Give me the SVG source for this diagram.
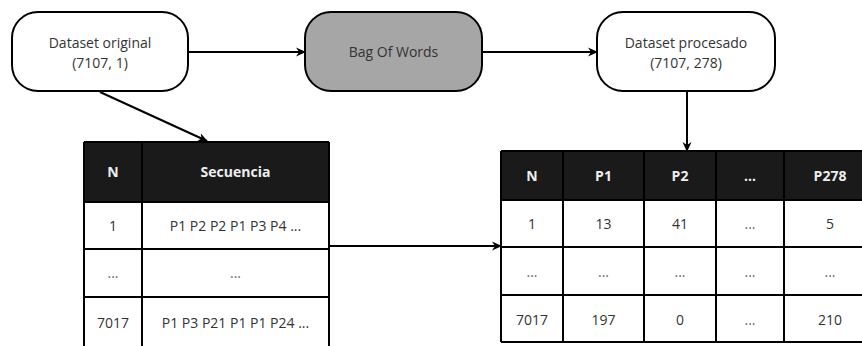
<svg xmlns="http://www.w3.org/2000/svg" width="862" height="346" viewBox="0 0 862 346">
  <defs>
    <marker id="arrow" viewBox="0 0 10 10" refX="9" refY="5" markerWidth="10" markerHeight="10" markerUnits="userSpaceOnUse" orient="auto">
      <path d="M0,0.5 L10,5 L0,9.5 L3,5 Z" fill="#000"/>
    </marker>
    <style>
      .node { stroke: #000; stroke-width: 2; }
      .txt { font-family: "Open Sans", "Noto Sans", sans-serif; font-size: 14px; fill: #333; text-anchor: middle; }
      .dots { fill: #666; }
      .hdr { font-family: "Open Sans", "Noto Sans", sans-serif; font-size: 14px; font-weight: bold; fill: #eee; text-anchor: middle; }
      .grid { stroke: #000; stroke-width: 2; fill: none; }
      .link { stroke: #000; stroke-width: 2; fill: none; marker-end: url(#arrow); }
    </style>
  </defs>
  <rect width="862" height="346" fill="#fff"/>

  <!-- process nodes -->
  <g id="dataset-original">
    <rect class="node" x="12" y="12" width="176" height="79" rx="26" fill="#fff"/>
    <text class="txt" x="100" y="48">Dataset original</text>
    <text class="txt" x="100" y="68">(7107, 1)</text>
  </g>
  <g id="bag-of-words">
    <rect class="node" x="305" y="12" width="177" height="79" rx="26" fill="#a6a6a6"/>
    <text class="txt" x="393.5" y="57">Bag Of Words</text>
  </g>
  <g id="dataset-procesado">
    <rect class="node" x="597" y="12" width="178" height="79" rx="26" fill="#fff"/>
    <text class="txt" x="686" y="48">Dataset procesado</text>
    <text class="txt" x="686" y="68">(7107, 278)</text>
  </g>

  <!-- original table -->
  <g id="tabla-original">
    <rect x="84" y="142" width="245" height="60" fill="#1a1a1a"/>
    <path class="grid" d="M84,142 H329 M84,142 V350 M142,142 V350 M329,142 V350 M84,202 H329 M84,249 H329 M84,297 H329"/>
    <text class="hdr" x="113" y="177">N</text>
    <text class="hdr" x="235.5" y="177">Secuencia</text>
    <text class="txt" x="113" y="231">1</text>
    <text class="txt" x="235.5" y="231">P1 P2 P2 P1 P3 P4 ...</text>
    <text class="txt dots" x="113" y="278">...</text>
    <text class="txt dots" x="235.5" y="278">...</text>
    <text class="txt" x="113" y="328">7017</text>
    <text class="txt" x="235.5" y="328">P1 P3 P21 P1 P1 P24 ...</text>
  </g>

  <!-- processed table -->
  <g id="tabla-procesada">
    <rect x="501" y="151" width="370" height="49" fill="#1a1a1a"/>
    <path class="grid" d="M501,151 H870 M501,342 H870 M501,151 V342 M563,151 V342 M644,151 V342 M716,151 V342 M784,151 V342 M501,200 H870 M501,247 H870 M501,295 H870"/>
    <text class="hdr" x="532" y="181">N</text>
    <text class="hdr" x="603.5" y="181">P1</text>
    <text class="hdr" x="680" y="181">P2</text>
    <text class="hdr" x="750" y="181">...</text>
    <text class="hdr" x="830" y="181">P278</text>
    <text class="txt" x="532" y="229">1</text>
    <text class="txt" x="603.5" y="229">13</text>
    <text class="txt" x="680" y="229">41</text>
    <text class="txt dots" x="750" y="229">...</text>
    <text class="txt" x="830" y="229">5</text>
    <text class="txt dots" x="532" y="277">...</text>
    <text class="txt dots" x="603.5" y="277">...</text>
    <text class="txt dots" x="680" y="277">...</text>
    <text class="txt dots" x="750" y="277">...</text>
    <text class="txt dots" x="830" y="277">...</text>
    <text class="txt" x="532" y="325">7017</text>
    <text class="txt" x="603.5" y="325">197</text>
    <text class="txt" x="680" y="325">0</text>
    <text class="txt dots" x="750" y="325">...</text>
    <text class="txt" x="830" y="325">210</text>
  </g>

  <!-- connectors -->
  <g id="connectors">
    <line class="link" x1="188" y1="52" x2="305" y2="52"/>
    <line class="link" x1="482" y1="52" x2="597" y2="52"/>
    <line class="link" x1="100" y1="92" x2="207" y2="141"/>
    <line class="link" x1="687" y1="91" x2="687" y2="151"/>
    <line class="link" x1="329" y1="246" x2="501" y2="246"/>
  </g>
</svg>
